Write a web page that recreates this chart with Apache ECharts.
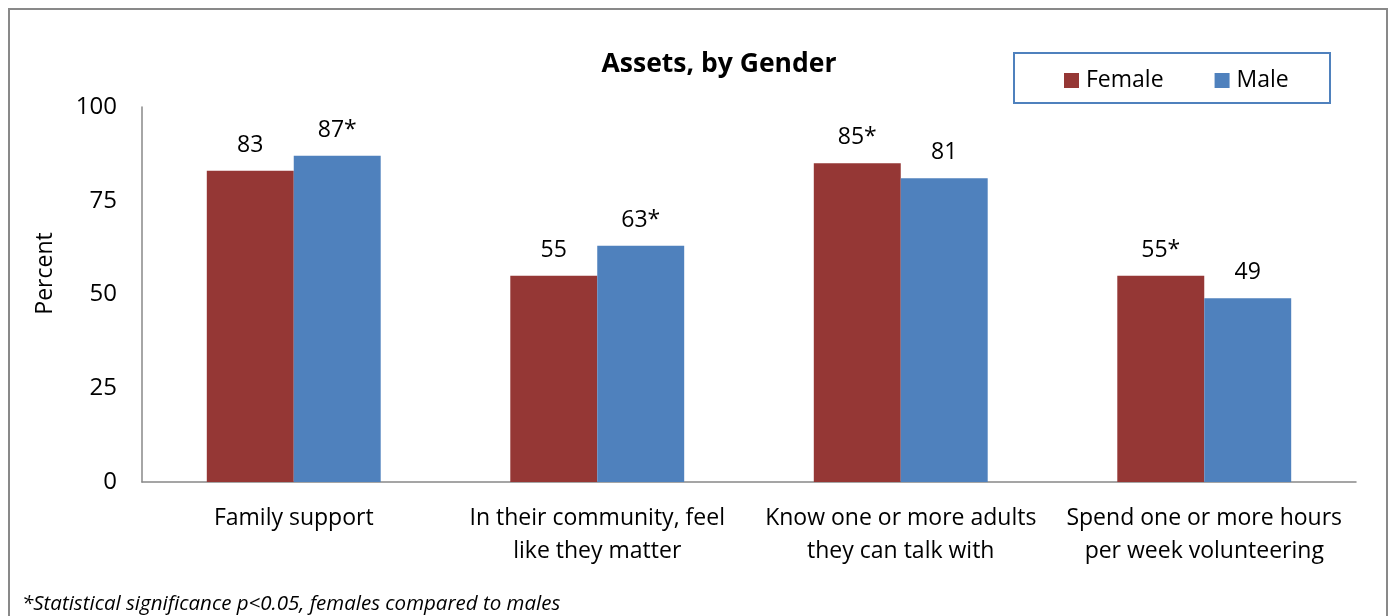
<!DOCTYPE html>
<html>
<head>
<meta charset="utf-8">
<title>Assets, by Gender</title>
<script src="https://cdn.jsdelivr.net/npm/echarts@6/dist/echarts.min.js"></script>
<style>
  html, body { margin: 0; padding: 0; background: #ffffff; }
  #chart { width: 1392px; height: 616px; }
</style>
</head>
<body>
<div id="chart"></div>
<script>
// Categories and percentages
const categories = [
  'Family support',
  'In their community, feel\nlike they matter',
  'Know one or more adults\nthey can talk with',
  'Spend one or more hours\nper week volunteering'
];
const femaleValues = [83, 55, 85, 55];
const maleValues = [87, 63, 81, 49];
// Asterisk marks a significant gender difference
const femaleSignificant = [false, false, true, true];
const maleSignificant = [true, true, false, false];
const yTicks = [0, 25, 50, 75, 100];

const FONT = '"Open Sans", "Liberation Sans", sans-serif';
const AXIS_GREY = '#888888';

const chart = echarts.init(document.getElementById('chart'), null, { renderer: 'canvas' });

function valueLabel(flags) {
  return {
    show: true,
    position: 'top',
    distance: 14,
    fontFamily: FONT,
    fontSize: 23,
    color: '#000000',
    formatter: p => p.value + (flags[p.dataIndex] ? '*' : '')
  };
}

chart.setOption({
  backgroundColor: '#ffffff',
  animation: false,
  title: {
    text: 'Assets, by Gender',
    left: 714,
    textAlign: 'center',
    top: 46,
    textStyle: { fontFamily: FONT, fontSize: 26.5, fontWeight: 'bold', color: '#000000' }
  },
  legend: {
    left: 1064,
    top: 69,
    padding: 0,
    itemWidth: 15,
    itemHeight: 15,
    itemGap: 51,
    icon: 'rect',
    textStyle: { fontFamily: FONT, fontSize: 23, color: '#000000', padding: [0, 0, 0, 2] },
    data: ['Female', 'Male']
  },
  graphic: [
    {
      type: 'rect',
      shape: { x: 9, y: 9, width: 1378, height: 640 },
      style: { fill: 'none', stroke: '#898989', lineWidth: 2 },
      silent: true
    },
    {
      type: 'rect',
      shape: { x: 1014, y: 53, width: 316, height: 50 },
      style: { fill: 'none', stroke: '#4F81BD', lineWidth: 2 },
      silent: true
    },
    {
      type: 'text',
      left: 22,
      top: 594,
      style: {
        text: '*Statistical significance p<0.05, females compared to males',
        fontFamily: FONT,
        fontSize: 20.5,
        fontStyle: 'italic',
        fill: '#000000'
      }
    }
  ],
  grid: {
    left: 142, right: 36, top: 107, bottom: 134,
    containLabel: false,
    outerBoundsMode: 'none'
  },
  xAxis: {
    type: 'category',
    data: categories,
    axisLine: { lineStyle: { color: AXIS_GREY, width: 1.5 } },
    axisTick: { show: false },
    axisLabel: {
      interval: 0,
      margin: 20,
      fontFamily: FONT,
      fontSize: 23,
      lineHeight: 33,
      color: '#000000'
    }
  },
  yAxis: {
    type: 'value',
    min: 0,
    max: 100,
    interval: 25,
    name: 'Percent',
    nameLocation: 'middle',
    nameGap: 85,
    nameRotate: 90,
    nameTextStyle: { fontFamily: FONT, fontSize: 23, color: '#000000', padding: [0, 0, 0, 42] },
    axisLine: { show: true, lineStyle: { color: AXIS_GREY, width: 1.5 } },
    axisTick: { show: false },
    splitLine: { show: false },
    axisLabel: {
      margin: 25,
      fontFamily: FONT,
      fontSize: 24,
      color: '#000000',
      formatter: v => (yTicks.includes(v) ? String(v) : '')
    }
  },
  series: [
    {
      name: 'Female',
      type: 'bar',
      data: femaleValues,
      barGap: '0%',
      barCategoryGap: '42.7%',
      itemStyle: { color: '#953735' },
      label: valueLabel(femaleSignificant)
    },
    {
      name: 'Male',
      type: 'bar',
      data: maleValues,
      itemStyle: { color: '#4F81BD' },
      label: valueLabel(maleSignificant)
    }
  ]
});
</script>
</body>
</html>
